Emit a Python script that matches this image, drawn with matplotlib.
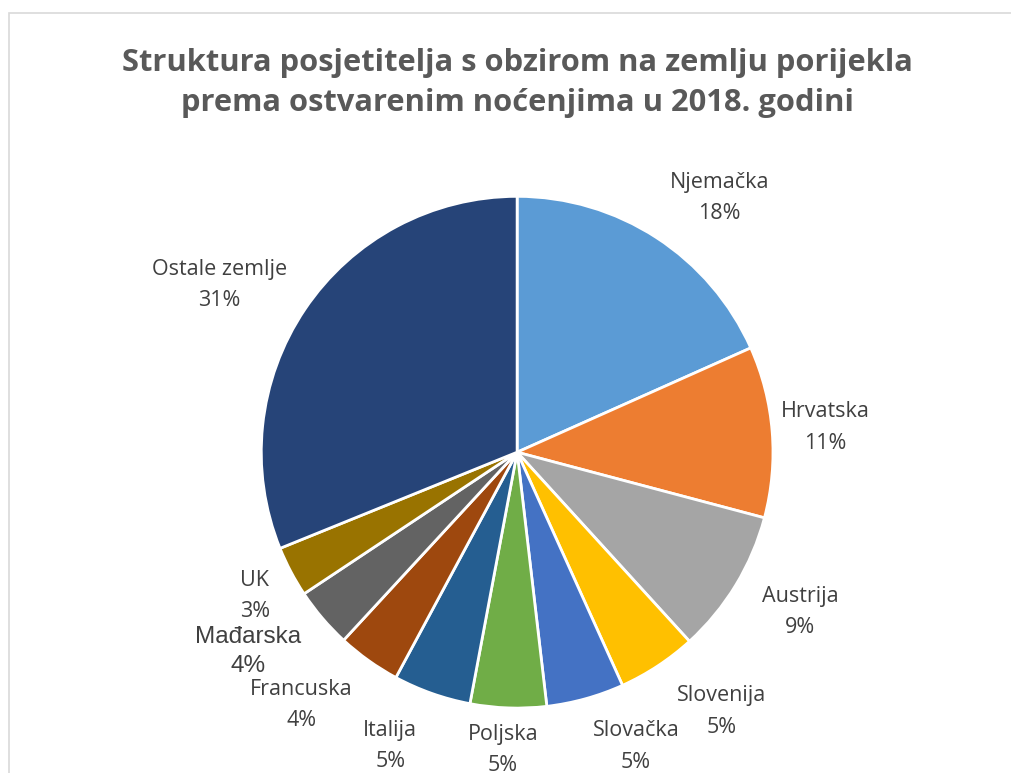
import numpy as np
import matplotlib.pyplot as plt
from matplotlib.patches import Rectangle

countries = ["Njemačka", "Hrvatska", "Austrija", "Slovenija", "Slovačka", "Poljska",
             "Italija", "Francuska", "Mađarska", "UK", "Ostale zemlje"]
shares = [18.3, 10.8, 9.1, 5.0, 4.9, 4.8, 4.9, 4.0, 3.8, 3.2, 31.1]
colors = ["#5B9BD5", "#ED7D31", "#A5A5A5", "#FFC000", "#4472C4", "#70AD47",
          "#255E91", "#9E480E", "#636363", "#997300", "#264478"]
title = "Struktura posjetitelja s obzirom na zemlju porijekla\nprema ostvarenim noćenjima u 2018. godini"

# excel "best fit" label placement: distance (pie radii) and angle shift (deg, clockwise)
label_dist = [1.27, 1.21, 1.27, 1.29, 1.24, 1.165, 1.25, 1.30, 1.31, 1.17, 1.335]
label_shift = [5.5, 0, -1.8, -4.9, -6.5, 0.7, 3.9, 5.0, 3.9, -0.9, -4.7]

total = sum(shares)
labels = [f"{c}\n{round(v / total * 100):.0f}%" for c, v in zip(countries, shares)]

fig = plt.figure(figsize=(10.12, 7.73), dpi=100)
fig.patches.append(Rectangle((9 / 1012, -0.1), 1.1, 1.1 - 13 / 773, transform=fig.transFigure,
                             fill=False, edgecolor="#D9D9D9", linewidth=1.2))

ax = fig.add_axes([0.258, 0.084, 0.506, 0.662])
wedges, texts = ax.pie(shares, labels=labels, colors=colors, startangle=90, counterclock=False,
                       wedgeprops=dict(edgecolor="white", linewidth=2),
                       textprops=dict(fontsize=15.5, color="#404040", family="Open Sans",
                                      linespacing=1.65))
for w, t, c, d, s in zip(wedges, texts, countries, label_dist, label_shift):
    ang = np.deg2rad((w.theta1 + w.theta2) / 2 - s)
    t.set_position((d * np.cos(ang), d * np.sin(ang)))
    t.set_ha("center")
    t.set_va("center")
    if c == "Mađarska":
        # this label fell back to Arial in the original
        t.set_family("Liberation Sans")
        t.set_fontsize(17.5)
        t.set_linespacing(1.4)
ax.set_xlim(-1, 1)
ax.set_ylim(-1, 1)
ax.set_aspect("equal")

fig.text(0.511, 0.893, title, ha="center", va="center", fontsize=22.2, fontweight="bold",
         color="#595959", family="Open Sans", linespacing=1.45)

fig.savefig("out.png", dpi=100)
